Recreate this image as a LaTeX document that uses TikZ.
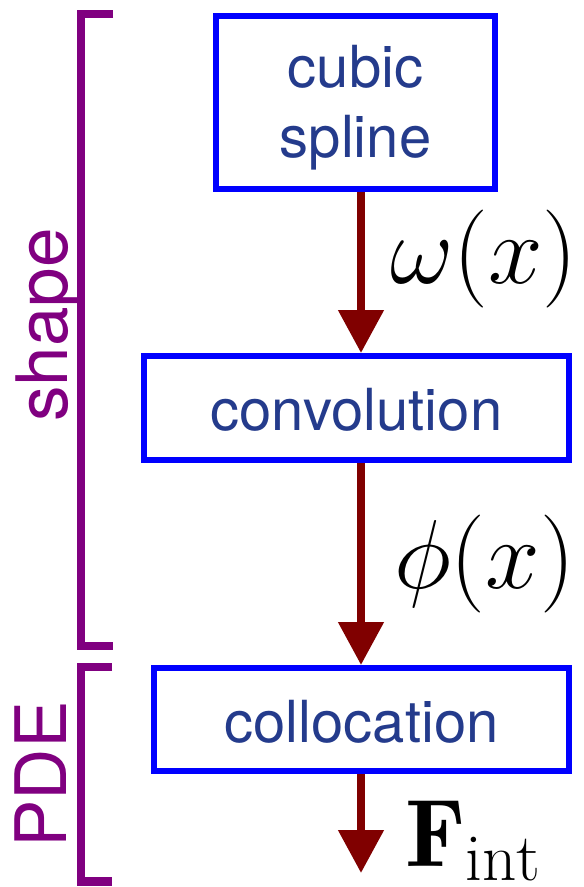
\documentclass[tikz,border=0pt]{standalone}
\usepackage{fix-cm}
\usepackage{fontspec}
\newfontfamily\heros{TeX Gyre Heros}
\usetikzlibrary{arrows.meta}
\definecolor{boxblue}{RGB}{0,0,255}
\definecolor{txtblue}{RGB}{36,59,140}
\definecolor{darkred}{RGB}{128,0,0}
\definecolor{brpurple}{RGB}{128,0,128}
\begin{document}
\begin{tikzpicture}[x=1pt,y=-1pt,
  stepbox/.style={draw=boxblue,line width=6pt,fill=white,text=txtblue,
    font=\heros\fontsize{58}{70}\selectfont,align=center,inner sep=0pt},
  arr/.style={draw=darkred,line width=8pt,
    -{Triangle[width=44pt,length=43pt]},darkred},
  brk/.style={draw=brpurple,line width=8.5pt,line cap=butt,line join=miter},
  brlabel/.style={text=brpurple,font=\heros\fontsize{71}{80}\selectfont,
    rotate=90,inner sep=0pt},
  mathlbl/.style={font=\fontsize{98}{100}\selectfont,inner sep=0pt,anchor=base west}]
\useasboundingbox (0,0) rectangle (584,887);
% boxes
\node[stepbox,minimum width=279pt,minimum height=173pt,text height=122pt] (b1) at (355.5,102.5) {cubic\\spline};
\node[stepbox,minimum width=425pt,minimum height=104pt,text height=46pt] (b2) at (356.5,408) {convolution};
\node[stepbox,minimum width=415pt,minimum height=103pt,text height=47pt] (b3) at (361.5,719.5) {collocation};
% arrows
\coordinate (ax) at (361,0);
\coordinate (fend) at (361,873);
\draw[arr] (b1.south -| ax) -- (b2.north -| ax);
\draw[arr] (b2.south -| ax) -- (b3.north -| ax);
\draw[arr] (b3.south -| ax) -- (fend);
% labels
\node[mathlbl] (w) at (390,283) {$\omega(x)$};
\node[mathlbl] (p) at (394,588) {$\phi(x)$};
\node[mathlbl,font=\fontsize{96}{100}\selectfont] (f) at (405,866) {$\mathbf{F}_{\mathrm{int}}$};
% brackets
\coordinate (s1) at (113,14);
\coordinate (s2) at (81,14);
\coordinate (s3) at (81,646);
\coordinate (s4) at (113,646);
\draw[brk] (s1) -- (s2) -- (s3) -- (s4);
\coordinate (d1) at (112,667);
\coordinate (d2) at (81,667);
\coordinate (d3) at (81,881.5);
\coordinate (d4) at (112,881.5);
\draw[brk] (d1) -- (d2) -- (d3) -- (d4);
\node[brlabel,anchor=base] (shp) at (67,325) {shape};
\node[brlabel,anchor=base] (pde) at (66,774.5) {PDE};
\end{tikzpicture}
\end{document}
